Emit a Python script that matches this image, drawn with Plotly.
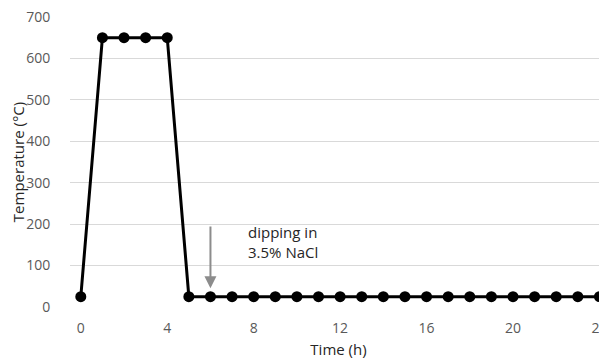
import plotly.graph_objects as go

time_h = list(range(0, 25))
temperature_c = [25, 650, 650, 650, 650] + [25] * 20
x_ticks = [0, 4, 8, 12, 16, 20, 24]
y_ticks = [0, 100, 200, 300, 400, 500, 600, 700]

FONT = "Open Sans, Liberation Sans, sans-serif"

fig = go.Figure()
fig.add_trace(go.Scatter(
    x=time_h, y=temperature_c, mode="lines+markers",
    line=dict(color="black", width=3),
    marker=dict(color="black", size=11),
    cliponaxis=False, showlegend=False,
))

fig.add_annotation(x=6, y=45, ax=6, ay=198, xref="x", yref="y", axref="x", ayref="y",
                   showarrow=True, arrowhead=2, arrowsize=1.2, arrowwidth=2,
                   arrowcolor="#8c8c8c", text="")
fig.add_annotation(x=7.65, y=157, xref="x", yref="y", xanchor="left", yanchor="middle",
                   text="dipping in<br>3.5% NaCl", showarrow=False, align="left",
                   font=dict(size=15, color="#262626", family=FONT))

# page body has an 8px default margin; figure is sized so that it fills the 607x362 window
fig.update_layout(
    width=599, height=354,
    margin=dict(l=62, r=0, t=9, b=55),
    plot_bgcolor="white", paper_bgcolor="white",
    font=dict(family=FONT, color="#595959", size=14),
    xaxis=dict(range=[-0.5, 24.35], tickvals=x_ticks, showgrid=False, zeroline=False,
               showline=False, ticks="outside", ticklen=8, tickcolor="rgba(0,0,0,0)",
               ticklabeloverflow="allow", automargin=False,
               title=dict(text="Time (h)", font=dict(size=15, color="#262626"), standoff=8)),
    yaxis=dict(range=[0, 700], tickvals=y_ticks, showgrid=True, gridcolor="#d9d9d9", gridwidth=1,
               zeroline=False, showline=False, ticks="outside", ticklen=16, tickcolor="rgba(0,0,0,0)",
               ticklabeloverflow="allow", automargin=False,
               title=dict(text="Temperature (°C)", font=dict(size=15, color="#262626"), standoff=10)),
)
fig.write_html("out.html")
